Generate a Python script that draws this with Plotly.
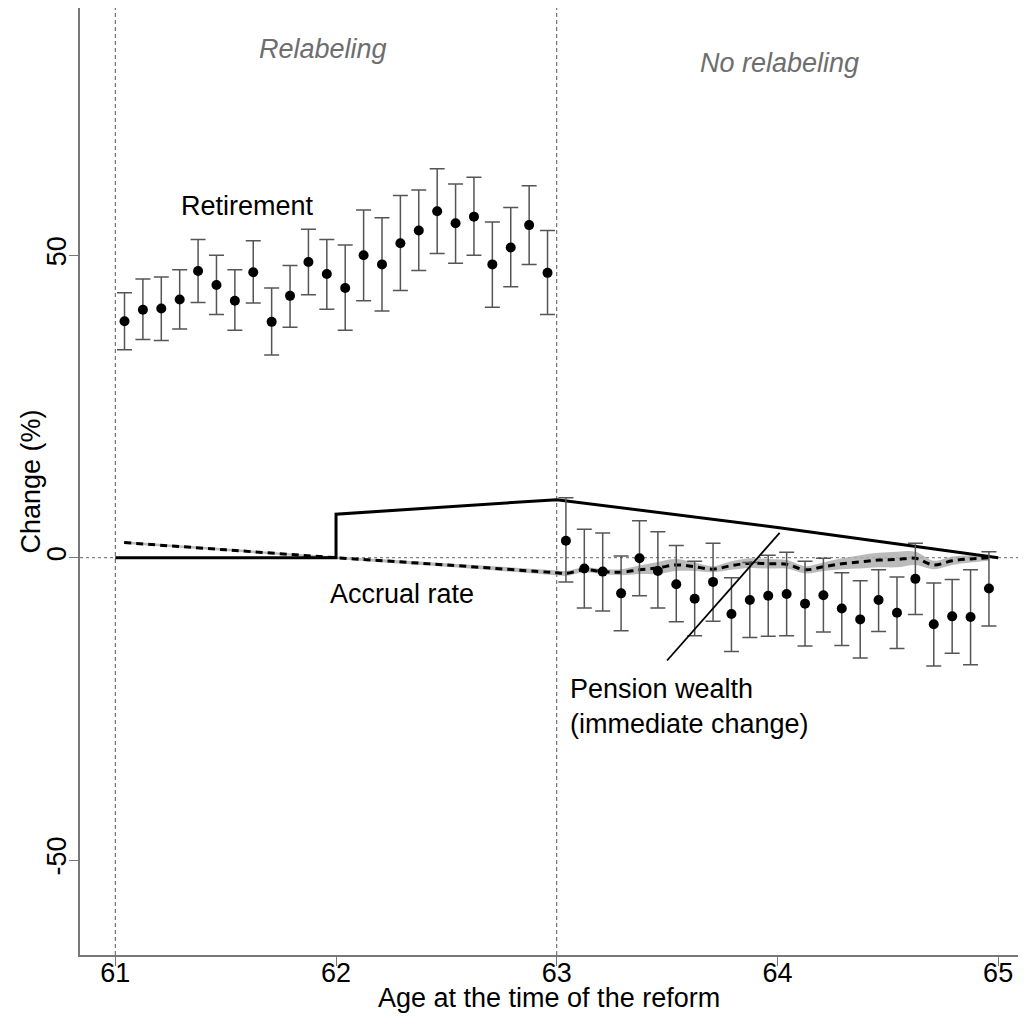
import plotly.graph_objects as go

# ---- data ----
ret_x = [61 + (k + 0.5) / 12 for k in range(24)]
ret_y = [39.1, 41.0, 41.2, 42.7, 47.4, 45.1, 42.5, 47.2, 39.0, 43.3, 48.9, 46.9,
         44.6, 50.0, 48.5, 52.0, 54.1, 57.3, 55.3, 56.4, 48.5, 51.3, 55.0, 47.1]
ret_hi = [43.8, 46.1, 46.4, 47.6, 52.6, 50.0, 47.6, 52.4, 44.6, 48.3, 54.3, 52.6,
          51.7, 57.5, 56.2, 59.9, 60.8, 64.3, 61.8, 62.9, 55.5, 57.9, 61.5, 54.1]
ret_lo = [34.4, 36.1, 35.9, 37.8, 42.2, 40.2, 37.6, 42.1, 33.5, 38.1, 43.5, 41.1,
          37.6, 42.5, 40.8, 44.2, 47.5, 50.3, 48.7, 50.0, 41.4, 44.8, 48.5, 40.2]

post_x = [63 + (k + 0.5) / 12 for k in range(24)]
post_y = [2.8, -1.8, -2.3, -5.9, -0.1, -2.2, -4.4, -6.8, -4.0, -9.3, -7.0, -6.3,
          -6.0, -7.6, -6.2, -8.4, -10.2, -7.0, -9.1, -3.5, -11.0, -9.7, -9.8, -5.1]
post_hi = [9.9, 4.7, 4.1, 0.3, 6.1, 4.3, 2.0, -0.6, 2.4, -3.3, -0.8, 0.4,
           0.9, -0.6, -0.1, -2.5, -3.8, -2.0, -3.2, 2.4, -4.2, -3.6, -2.0, 1.0]
post_lo = [-4.0, -8.3, -8.8, -12.1, -6.3, -8.3, -10.6, -12.9, -10.5, -15.5, -13.2, -13.0,
           -12.9, -14.6, -12.3, -14.5, -16.6, -12.2, -15.0, -9.4, -17.9, -15.8, -17.7, -11.3]

# pension wealth (solid line)
pw_x = [61, 62, 62, 63, 64, 65]
pw_y = [0, 0, 7.2, 9.6, 5.0, 0]

# accrual rate (dashed line) with confidence band
ar_x = [61.04, 61.5, 62.0, 62.5] + [63.0] + post_x
ar_y = [2.5, 1.3, 0.0, -1.2] + [-2.5] + [-2.6, -2.0, -2.3, -2.4, -2.0, -1.7, -1.2, -1.5,
                                         -1.9, -1.3, -0.9, -1.0, -1.1, -2.0, -1.5, -1.0,
                                         -0.7, -0.4, -0.3, -0.1, -1.2, -0.5, -0.2, 0.0]
ar_band = [0.2, 0.2, 0.2, 0.3, 0.4] + [0.4, 0.4, 0.4, 0.5, 0.7, 1.0, 1.0, 0.7,
                                        0.5, 0.7, 0.8, 0.8, 0.7, 0.6, 0.7, 0.9,
                                        1.1, 1.2, 1.3, 1.1, 0.7, 0.7, 0.6, 0.5]

# pointer line for the "Pension wealth" label
ptr_x = [63.50, 64.01]
ptr_y = [-17.0, 4.1]

x_ticks = [61, 62, 63, 64, 65]
y_ticks = [-50, 0, 50]

FONT = "Liberation Sans, Arial, sans-serif"
FS = 27
ERR = "#555555"

fig = go.Figure()

# band
ar_lo = [a - b for a, b in zip(ar_y, ar_band)]
ar_up = [a + b for a, b in zip(ar_y, ar_band)]
fig.add_trace(go.Scatter(x=ar_x, y=ar_lo, mode="lines", line=dict(width=0, shape="spline"),
                         hoverinfo="skip", showlegend=False))
fig.add_trace(go.Scatter(x=ar_x, y=ar_up, mode="lines", line=dict(width=0, shape="spline"),
                         fill="tonexty", fillcolor="rgba(175,175,175,0.85)",
                         hoverinfo="skip", showlegend=False))
# accrual dashed line
fig.add_trace(go.Scatter(x=ar_x, y=ar_y, mode="lines",
                         line=dict(color="black", width=3, dash="7px,5px", shape="spline"),
                         showlegend=False))
# pension wealth solid line
fig.add_trace(go.Scatter(x=pw_x, y=pw_y, mode="lines",
                         line=dict(color="black", width=3), showlegend=False))

# retirement points
for xs, ys, hi, lo in [(ret_x, ret_y, ret_hi, ret_lo), (post_x, post_y, post_hi, post_lo)]:
    fig.add_trace(go.Scatter(
        x=xs, y=ys, mode="markers",
        marker=dict(color="black", size=10),
        error_y=dict(type="data", symmetric=False,
                     array=[h - v for h, v in zip(hi, ys)],
                     arrayminus=[v - l for v, l in zip(ys, lo)],
                     color=ERR, thickness=1.5, width=7.5),
        showlegend=False))

# pointer line
fig.add_trace(go.Scatter(x=ptr_x, y=ptr_y, mode="lines",
                         line=dict(color="black", width=1.8), showlegend=False))

# reference lines
fig.add_shape(type="line", xref="paper", yref="y", x0=0, x1=1, y0=0, y1=0,
              line=dict(color="#666666", width=1, dash="dot"), layer="below")
for xv in [61, 63]:
    fig.add_shape(type="line", xref="x", yref="paper", x0=xv, x1=xv, y0=0, y1=1,
                  line=dict(color="#555555", width=1, dash="4px,3px"), layer="below")

ann = dict(showarrow=False, font=dict(family=FONT, size=FS, color="black"))
grey = dict(family=FONT, size=FS, color="#6e6e6e")
fig.add_annotation(x=61.94, y=84.1, text="<i>Relabeling</i>", **{**ann, "font": grey})
fig.add_annotation(x=64.01, y=81.8, text="<i>No relabeling</i>", **{**ann, "font": grey})
fig.add_annotation(x=61.6, y=58.2, text="Retirement", **ann)
fig.add_annotation(x=62.3, y=-5.95, text="Accrual rate", **ann)
fig.add_annotation(x=63.05, y=-24.6, text="Pension wealth<br>(immediate change)",
                   xanchor="left", align="left", **ann)

# axis titles
fig.add_annotation(xref="paper", yref="paper", x=0.5, y=-0.0634, yanchor="bottom",
                   text="Age at the time of the reform", **ann)
fig.add_annotation(xref="paper", yref="paper", x=-0.0533, y=0.5, xanchor="center",
                   textangle=-90, text="Change (%)", **ann)

fig.update_layout(
    width=1010, height=1008,
    margin=dict(l=72, r=0, t=0, b=61),
    paper_bgcolor="white", plot_bgcolor="white",
    font=dict(family=FONT, size=FS, color="black"),
    xaxis=dict(range=[60.84, 65.09], tickvals=x_ticks, ticktext=[str(v) for v in x_ticks],
               showgrid=False, zeroline=False, showline=True, linecolor="#777777", linewidth=1.5,
               ticks="outside", ticklen=9, tickcolor="#777777", ticklabelstandoff=-16,
               tickfont=dict(family=FONT, size=FS), automargin=False),
    yaxis=dict(range=[-65.7, 90.9], tickvals=y_ticks, ticktext=[str(v) for v in y_ticks],
               showgrid=False, zeroline=False, showline=True, linecolor="#777777", linewidth=1.5,
               ticks="outside", ticklen=9, tickcolor="#777777", tickangle=-90,
               ticklabelstandoff=-8,
               tickfont=dict(family=FONT, size=FS), automargin=False),
)

fig.write_html("out.html")
